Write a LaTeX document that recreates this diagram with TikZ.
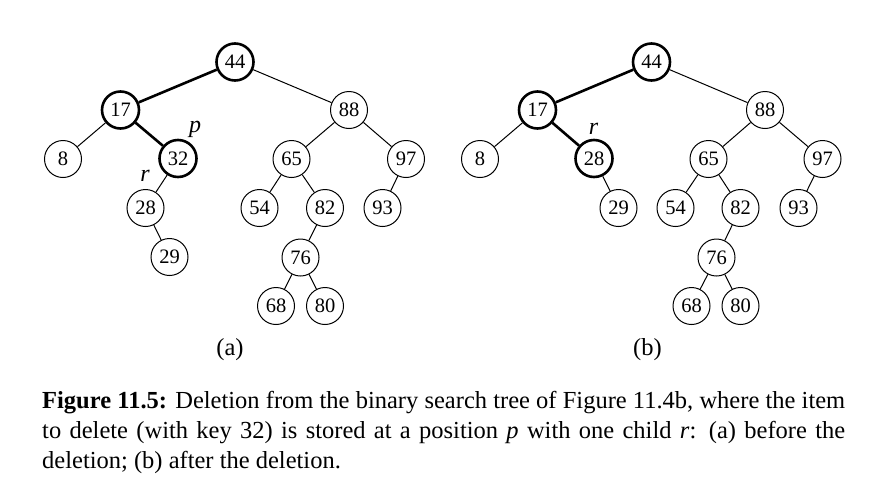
\documentclass[tikz,border=0pt]{standalone}
\usepackage{fontspec}
\setmainfont{Liberation Serif}
\tikzset{
	bnode/.style={circle, draw, line width=1pt, minimum size=37pt, inner sep=0pt, font=\fontsize{20.5}{22}\selectfont},
	bhot/.style={line width=2.6pt},
	bedge/.style={line width=1pt},
	btag/.style={font=\fontsize{24}{28}\selectfont\itshape, inner sep=0pt},
	bsub/.style={font=\fontsize{24.5}{28}\selectfont, inner sep=0pt}
}
\begin{document}
\begin{tikzpicture}[x=1pt,y=-1pt]
		\useasboundingbox (0,0) rectangle (875,488);
		\node[bnode,bhot] (a44) at (235,62) {44};
		\node[bnode,bhot] (a17) at (120.5,110) {17};
		\node[bnode] (a88) at (349,110) {88};
		\node[bnode] (a8) at (63,159) {8};
		\node[bnode,bhot] (a32) at (178,158.5) {32};
		\node[bnode] (a65) at (291.5,159) {65};
		\node[bnode] (a97) at (406,159) {97};
		\node[bnode] (a28) at (145.5,208) {28};
		\node[bnode] (a54) at (259.5,208) {54};
		\node[bnode] (a82) at (325,208) {82};
		\node[bnode] (a93) at (382.5,208) {93};
		\node[bnode] (a29) at (169.5,257) {29};
		\node[bnode] (a76) at (300.5,257.5) {76};
		\node[bnode] (a68) at (276,306) {68};
		\node[bnode] (a80) at (325,306) {80};
		\node[btag] (ap) at (195,129) {p};
		\node[btag] (ar) at (145,176) {r};
		\node[bsub] (acap) at (230,350) {(a)};
		\draw[bedge,bhot] (a44) -- (a17);
		\draw[bedge] (a44) -- (a88);
		\draw[bedge] (a17) -- (a8);
		\draw[bedge,bhot] (a17) -- (a32);
		\draw[bedge] (a32) -- (a28);
		\draw[bedge] (a28) -- (a29);
		\draw[bedge] (a88) -- (a65);
		\draw[bedge] (a88) -- (a97);
		\draw[bedge] (a65) -- (a54);
		\draw[bedge] (a65) -- (a82);
		\draw[bedge] (a82) -- (a76);
		\draw[bedge] (a76) -- (a68);
		\draw[bedge] (a76) -- (a80);
		\draw[bedge] (a97) -- (a93);
		\node[bnode,bhot] (b44) at (651.5,62) {44};
		\node[bnode,bhot] (b17) at (537.5,110) {17};
		\node[bnode] (b88) at (765,110) {88};
		\node[bnode] (b8) at (480,159) {8};
		\node[bnode,bhot] (b28) at (594,158.5) {28};
		\node[bnode] (b65) at (708.5,159) {65};
		\node[bnode] (b97) at (822.5,159) {97};
		\node[bnode] (b29) at (618.5,208) {29};
		\node[bnode] (b54) at (675.5,208) {54};
		\node[bnode] (b82) at (740.5,208) {82};
		\node[bnode] (b93) at (798.5,208) {93};
		\node[bnode] (b76) at (716.5,257.5) {76};
		\node[bnode] (b68) at (691.5,306) {68};
		\node[bnode] (b80) at (740.5,306) {80};
		\node[btag] (br) at (593.5,128.5) {r};
		\node[bsub] (bcap) at (647.5,350) {(b)};
		\draw[bedge,bhot] (b44) -- (b17);
		\draw[bedge] (b44) -- (b88);
		\draw[bedge] (b17) -- (b8);
		\draw[bedge,bhot] (b17) -- (b28);
		\draw[bedge] (b28) -- (b29);
		\draw[bedge] (b88) -- (b65);
		\draw[bedge] (b88) -- (b97);
		\draw[bedge] (b65) -- (b54);
		\draw[bedge] (b65) -- (b82);
		\draw[bedge] (b82) -- (b76);
		\draw[bedge] (b76) -- (b68);
		\draw[bedge] (b76) -- (b80);
		\draw[bedge] (b97) -- (b93);
		\node[anchor=north west, inner sep=0pt, text width=803pt, align=justify,
			font=\fontsize{24.5}{30}\selectfont] (caption) at (42,391)
			{\textbf{Figure 11.5:} Deletion from the binary search tree of Figure 11.4b, where the item\linebreak
			to delete (with key 32) is stored at a position \textit{p} with one child \textit{r}: (a) before the\linebreak
			deletion; (b) after the deletion.};
	\end{tikzpicture}
\end{document}
